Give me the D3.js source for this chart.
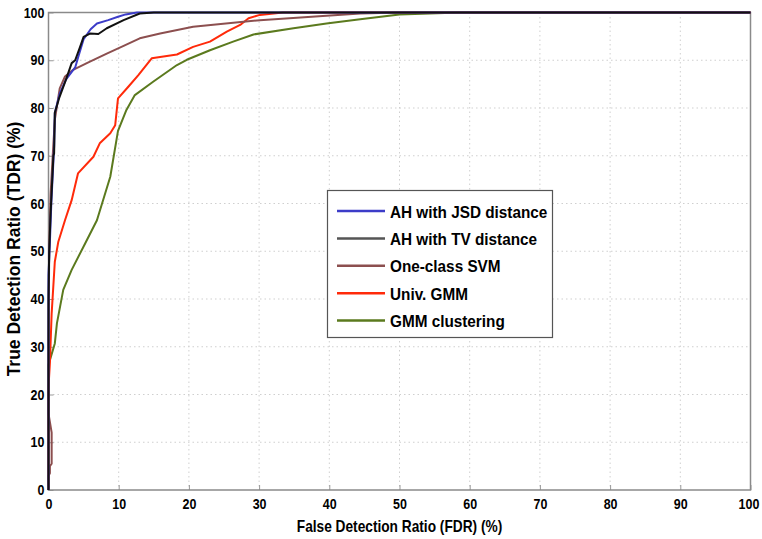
<!DOCTYPE html>
<html>
<head>
<meta charset="utf-8">
<script src="https://cdn.jsdelivr.net/npm/d3@7"></script>
<style>
  body { margin: 0; background: #fff; }
  text { font-family: "Liberation Sans", Arial, sans-serif; font-weight: bold; }
</style>
</head>
<body>
<div class="chart"></div>
<script>
// curves: [FDR %, TDR %]
var jsdCurve = [[0,0],[0,20],[0,45],[0.2,52],[0.4,60],[0.6,66],[0.8,72],[0.9,79],[1.6,83],[2.5,86],[3.8,88.5],[4.3,91],[5,94.4],[6,96.5],[6.9,97.7],[8.5,98.4],[9.9,99.1],[11,99.6],[12.6,100],[100,100]];
var tvCurve = [[0,0],[0,20],[0,40],[0.1,50],[0.3,58],[0.5,64],[0.7,70],[0.8,70.5],[0.9,79],[1.5,82],[2.5,86],[3.3,89.4],[3.8,90],[4.5,92.8],[5,94.9],[5.9,95.6],[7.1,95.5],[8.3,96.7],[10.7,98.4],[13,99.8],[15,100],[100,100]];
var svmCurve = [[0,0],[0,3],[0.2,3.5],[0.2,5],[0.45,5.5],[0.45,12],[0,16],[0,30],[0.1,50],[0.3,62],[0.6,70],[0.9,77.5],[1.6,84.1],[2.35,86.6],[3.5,88],[5.9,89.7],[8.3,91.4],[10.7,93],[13,94.6],[15.9,95.6],[20.6,97],[30.1,98.4],[39.6,99.3],[44.4,99.8],[50,100],[100,100]];
var gmmCurve = [[0,0],[0,18],[0,21.6],[0.2,26.6],[0.45,37],[0.9,47.8],[1.4,52],[2.35,56.5],[3.3,60.7],[4.2,66.3],[6.4,69.8],[7.3,72.6],[8.8,74.7],[9.5,76.4],[9.9,82],[11.4,84.5],[12.8,86.9],[14.7,90.4],[15.9,90.7],[18.3,91.2],[20.6,92.8],[23,93.9],[25.4,96],[27.3,97.4],[28.5,98.8],[30.1,99.5],[33.4,100],[100,100]];
var clusterCurve = [[0,0],[0,26.2],[0.9,30.7],[1.2,34.9],[2.1,41.9],[3.3,46.1],[5,51],[6.9,56.5],[8.8,65.6],[9.9,75.2],[11.1,79.6],[12.3,82.7],[14.9,85.5],[18.3,89],[19.7,90.1],[23,92.1],[26.3,93.9],[29.2,95.4],[34.9,96.7],[39.6,97.7],[44.4,98.6],[50,99.6],[58.6,100],[100,100]];

var seriesNames = ["AH with JSD distance", "AH with TV distance", "One-class SVM", "Univ. GMM", "GMM clustering"];
var seriesColors = ["#3c3cc8", "#111111", "#8c4f4f", "#ff2a0a", "#5b7a1e"];
var legendColors = ["#3c3cc8", "#555555", "#8c4f4f", "#ff2a0a", "#5b7a1e"];
var curves = [jsdCurve, tvCurve, svmCurve, gmmCurve, clusterCurve];
var ticks = d3.range(0, 101, 10);

var w = 762, h = 539;
var pLeft = 48.5, pRight = 750.5, pTop = 12.5, pBottom = 490;

var svg = d3.select('.chart').append('svg')
	.attr('width', w)
	.attr('height', h);

var x = d3.scaleLinear().domain([0, 100]).range([pLeft, pRight]);
var y = d3.scaleLinear().domain([0, 100]).range([pBottom, pTop]);

// the original font is a condensed bold sans, squeeze the glyphs a bit
var condense = function(sel, k){
	sel.each(function(){
		var len = this.getComputedTextLength();
		d3.select(this).attr('textLength', len * k).attr('lengthAdjust', 'spacingAndGlyphs');
	});
};

// dotted grid
svg.append('g').selectAll('line').data(ticks.slice(1, -1)).enter()
	.append('line')
	.attr('x1', function(d){ return x(d); }).attr('x2', function(d){ return x(d); })
	.attr('y1', pTop).attr('y2', pBottom)
	.style('stroke', '#cfcfcf').style('stroke-dasharray', '1.5,3');
svg.append('g').selectAll('line').data(ticks.slice(1, -1)).enter()
	.append('line')
	.attr('y1', function(d){ return y(d); }).attr('y2', function(d){ return y(d); })
	.attr('x1', pLeft).attr('x2', pRight)
	.style('stroke', '#cfcfcf').style('stroke-dasharray', '1.5,3');

// axes, ticks pointing inward
var xAxis = svg.append('g')
	.attr('transform', 'translate(0,' + pBottom + ')')
	.call(d3.axisBottom(x).tickValues(ticks).tickSize(-5).tickPadding(9));
var yAxis = svg.append('g')
	.attr('transform', 'translate(' + pLeft + ',0)')
	.call(d3.axisLeft(y).tickValues(ticks).tickSize(-5).tickPadding(4));
[xAxis, yAxis].forEach(function(a){
	a.select('.domain').remove();
	a.selectAll('line').style('stroke', '#999');
	a.selectAll('text').style('font-size', '14.5px').style('fill', '#000')
		.style('font-family', '"Liberation Sans", Arial, sans-serif')
		.style('font-weight', 'bold')
		.call(condense, 0.86);
});
// last x label sits at the window edge
xAxis.selectAll('.tick text').filter(function(d){ return d === 100; }).attr('dx', -2);

// box
svg.append('rect')
	.attr('x', pLeft).attr('y', pTop)
	.attr('width', pRight - pLeft).attr('height', pBottom - pTop)
	.style('fill', 'none').style('stroke', '#8a8a8a').style('stroke-width', 1.5);

var line = d3.line()
	.x(function(d){ return x(d[0]); })
	.y(function(d){ return y(d[1]); });

// draw back to front
[4, 3, 2, 0, 1].forEach(function(i){
	svg.append('path')
		.datum(curves[i])
		.attr('d', line)
		.style('fill', 'none')
		.style('stroke', seriesColors[i])
		.style('stroke-width', 2)
		.style('stroke-linejoin', 'round');
});

// legend
var lg = svg.append('g');
lg.append('rect')
	.attr('x', 327.5).attr('y', 190.5)
	.attr('width', 225).attr('height', 147)
	.style('fill', '#fff').style('stroke', '#555').style('stroke-width', 1.2);
var items = lg.selectAll('.item').data(seriesNames).enter()
	.append('g')
	.attr('transform', function(d, i){ return 'translate(0,' + (211 + i * 27.4) + ')'; });
items.append('line')
	.attr('x1', 337).attr('x2', 385)
	.style('stroke', function(d, i){ return legendColors[i]; })
	.style('stroke-width', 2.5);
items.append('text')
	.attr('x', 390).attr('y', 6.5)
	.style('font-size', '17px')
	.text(function(d){ return d; })
	.call(condense, 0.9);

// axis titles
svg.append('text')
	.attr('x', (pLeft + pRight) / 2).attr('y', 532)
	.attr('text-anchor', 'middle')
	.style('font-size', '16.5px')
	.text('False Detection Ratio (FDR) (%)')
	.call(condense, 0.83);
svg.append('text')
	.attr('transform', 'translate(20,249) rotate(-90)')
	.attr('text-anchor', 'middle')
	.style('font-size', '17.5px')
	.text('True Detection Ratio (TDR) (%)')
	.call(condense, 1);
</script>
</body>
</html>
